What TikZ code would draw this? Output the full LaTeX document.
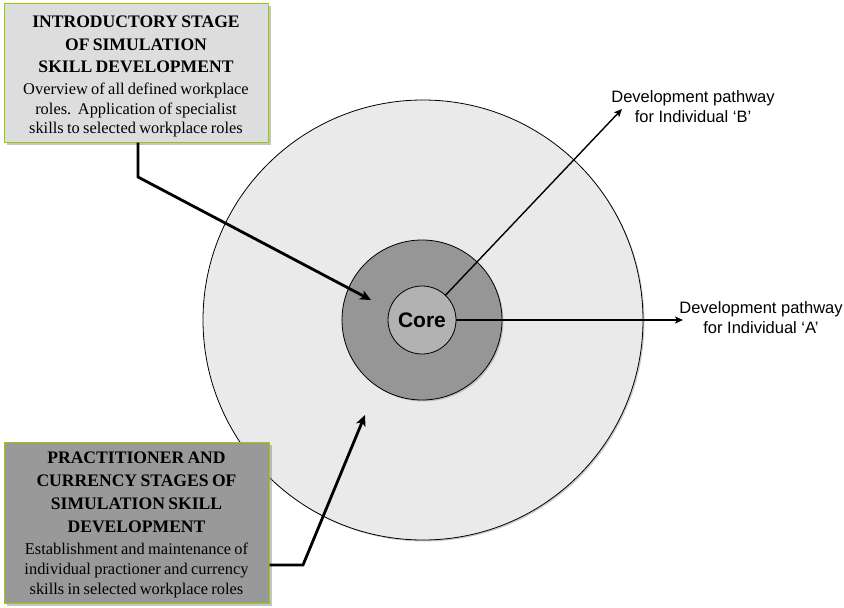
\documentclass[tikz,border=0pt]{standalone}
\usepackage{fontspec}
\setmainfont{Liberation Serif}
\setsansfont{Liberation Sans}
\usetikzlibrary{arrows.meta, positioning, shadows}
\definecolor{boxgreen}{HTML}{99CC00}
\definecolor{lightfill}{HTML}{DDDDDD}
\definecolor{darkfill}{HTML}{999999}
\definecolor{ringouter}{HTML}{EAEAEA}
\definecolor{ringmid}{HTML}{969696}
\definecolor{ringcore}{HTML}{B2B2B2}

\begin{document}
\begin{tikzpicture}[x=1pt, y=-1pt,
  ring/.style={circle, draw=black, line width=0.8pt, inner sep=0pt, drop shadow={shadow xshift=1.5pt, shadow yshift=-1.5pt, fill=gray!80}},
  stagebox/.style={rectangle, draw=boxgreen, line width=1pt, inner sep=0pt, align=center, text width=255pt, drop shadow={shadow xshift=3pt, shadow yshift=-3pt, fill=gray!90}},
  pathlabel/.style={align=center, font=\sffamily\fontsize{16.5}{20}\selectfont},
  thickarrow/.style={-{Stealth[length=11pt, width=10pt, inset=3pt]}, line width=2.8pt, line join=miter},
  patharrow/.style={-{Stealth[length=8pt, width=7pt, inset=2pt]}, line width=1.4pt}
]
  \useasboundingbox (0,0) rectangle (844,608);

  % rings
  \node[ring, fill=ringouter, minimum size=440pt] (outer) at (423,320) {};
  \node[ring, fill=ringmid, minimum size=160pt] (mid) at (422,320) {};
  \node[ring, fill=ringcore, minimum size=68pt, font=\sffamily\bfseries\fontsize{21}{24}\selectfont] (core) at (422,320) {Core};

  % stage boxes
  \node[stagebox, fill=lightfill, minimum width=264pt, minimum height=139pt] (intro) at (136,72.5) {%
    {\fontsize{17.6}{22.5}\selectfont\bfseries \rule{0pt}{20pt}INTRODUCTORY STAGE\\ OF SIMULATION\\ SKILL DEVELOPMENT\par}
    \vspace{2.5pt}
    {\fontsize{16.4}{19.5}\selectfont Overview of all defined workplace\\ roles.\ \ Application of specialist\\ skills to selected workplace roles\par}};
  \node[stagebox, fill=darkfill, minimum width=265pt, minimum height=161pt] (pract) at (136.5,522.5) {%
    {\fontsize{17.6}{23}\selectfont\bfseries \rule{0pt}{16pt}PRACTITIONER AND\\ CURRENCY STAGES OF\\ SIMULATION SKILL\\ DEVELOPMENT\par}
    \vspace{2pt}
    {\fontsize{16.4}{20}\selectfont Establishment and maintenance of\\ individual practioner and currency\\ skills in selected workplace roles\par}};

  % pathway labels
  \node[pathlabel] (labelB) at (693,107) {Development pathway\\for Individual `B'};
  \node[pathlabel] (labelA) at (761,318) {Development pathway\\for Individual `A'};

  \coordinate (tipB) at (622,109);
  \coordinate (tipA) at (683,320);
  \coordinate (introbend) at (138,177);
  \coordinate (introtip) at (371,300);
  \coordinate (practbend) at (303,565);
  \coordinate (practtip) at (365,415);

  \draw[patharrow] (core) -- (tipB);
  \draw[patharrow] (core) -- (tipA);
  \draw[thickarrow] (intro.south -| introbend) -- (introbend) -- (introtip);
  \draw[thickarrow] (pract.east |- practbend) -- (practbend) -- (practtip);
\end{tikzpicture}
\end{document}
